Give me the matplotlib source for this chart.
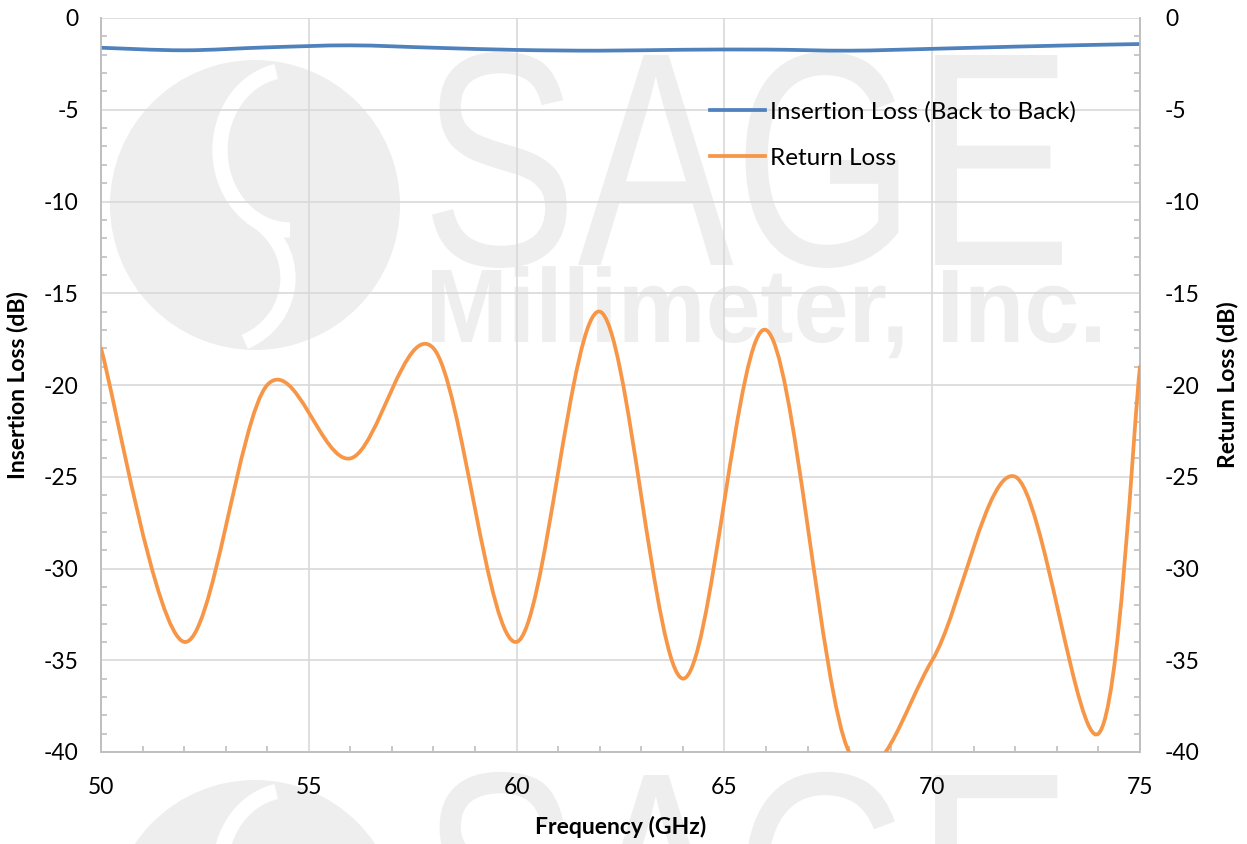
import numpy as np
import matplotlib
matplotlib.use('Agg')
import matplotlib.pyplot as plt
from matplotlib.path import Path
from matplotlib.patches import PathPatch, Circle, Arc
from matplotlib.lines import Line2D
from matplotlib.textpath import TextPath
from matplotlib.font_manager import FontProperties
from matplotlib.ticker import MultipleLocator
import matplotlib.transforms as mtransforms

plt.rcParams['font.family'] = ['Lato', 'DejaVu Sans']

# data
freq_il = [50, 52, 54, 56, 58, 60, 62, 64, 66, 68, 70, 72, 74, 75]
insertion_loss = [-1.62, -1.76, -1.6, -1.49, -1.62, -1.74, -1.78, -1.73, -1.72,
                  -1.78, -1.68, -1.56, -1.46, -1.42]

freq_rl = [50, 52, 54, 56, 58, 60, 62, 64, 66, 68, 70, 72, 74, 75]
return_loss = [-18, -34, -20, -24, -18, -34, -16, -36, -17, -40, -35, -25, -39, -19]

x_ticks = [50, 55, 60, 65, 70, 75]
y_ticks = [0, -5, -10, -15, -20, -25, -30, -35, -40]

blue = '#4F81BD'
orange = '#F79646'
wm_gray = '#EEEEEE'
W, H = 1247, 844


def smooth_path(x, y):
    # Excel style smoothed line: Catmull-Rom as cubic Bezier segments
    p = np.column_stack([x, y]).astype(float)
    n = len(p)
    verts = [p[0]]
    codes = [Path.MOVETO]
    for i in range(n - 1):
        p0 = p[i - 1] if i > 0 else p[i]
        p3 = p[i + 2] if i + 2 < n else p[i + 1]
        c1 = p[i] + (p[i + 1] - p0) / 6.0
        c2 = p[i + 1] - (p3 - p[i]) / 6.0
        verts += [c1, c2, p[i + 1]]
        codes += [Path.CURVE4] * 3
    return Path(verts, codes)


def text_in_box(fig, s, box, weight='normal'):
    # box in image pixels (left, top, right, baseline)
    fp = FontProperties(family='Liberation Sans', weight=weight)
    tp = TextPath((0, 0), s, size=100, prop=fp)
    ext = tp.get_extents()
    cap = TextPath((0, 0), 'M', size=100, prop=fp).get_extents()
    x0, top, x1, base = box
    sx = (x1 - x0) / ext.width
    sy = (base - top) / cap.y1
    tr = (mtransforms.Affine2D().translate(-ext.x0, 0).scale(sx, sy)
          .translate(x0, H - base))
    fig.add_artist(PathPatch(tr.transform_path(tp), facecolor=wm_gray,
                             edgecolor='none', transform=mtransforms.IdentityTransform(),
                             zorder=-2))


def watermark(fig, dy):
    idt = mtransforms.IdentityTransform()
    fig.add_artist(Circle((255, H - (205 + dy)), 145, facecolor=wm_gray,
                          edgecolor='none', transform=idt, zorder=-2))
    fig.add_artist(Arc((290, H - (150 + dy)), 140, 160, theta1=100, theta2=270,
                       color='white', lw=11, transform=idt, zorder=-1.5))
    fig.add_artist(Arc((215, H - (278 + dy)), 146, 140, theta1=-65, theta2=60,
                       color='white', lw=11, transform=idt, zorder=-1.5))
    text_in_box(fig, 'SAGE', (432, 55 + dy, 1062, 265 + dy))
    text_in_box(fig, 'Millimeter, Inc.', (432, 270 + dy, 1100, 342 + dy), weight='bold')


fig = plt.figure(figsize=(W / 100, H / 100), dpi=100)
watermark(fig, 0)
watermark(fig, 720)

ax = fig.add_axes([101 / W, 1 - 752 / H, 1039 / W, 734 / H])
ax.set_facecolor('none')
ax2 = ax.twinx()

ax.add_patch(PathPatch(smooth_path(freq_il, insertion_loss), fill=False,
                       edgecolor=blue, lw=2.7, capstyle='round', zorder=3))
ax2.add_patch(PathPatch(smooth_path(freq_rl, return_loss), fill=False,
                        edgecolor=orange, lw=2.7, capstyle='round', zorder=3))

for a in (ax, ax2):
    a.set_xlim(50, 75)
    a.set_ylim(-40, 0)
    a.set_yticks(y_ticks)
    a.yaxis.set_minor_locator(MultipleLocator(1))
    for sp in a.spines.values():
        sp.set_color('#BFBFBF')
        sp.set_linewidth(1.2)
    a.spines['top'].set_visible(False)

ax.set_xticks(x_ticks)
ax.xaxis.set_minor_locator(MultipleLocator(1))
ax.grid(True, which='major', color='#D9D9D9', lw=1.2)
ax.set_axisbelow(True)

ax.tick_params(axis='both', which='major', length=0, labelsize=16.5, colors='black')
ax.tick_params(axis='y', which='major', pad=16)
ax.tick_params(axis='x', which='major', pad=18)
ax.tick_params(which='minor', direction='in', length=4.5, width=1.2, color='#BFBFBF')
ax2.tick_params(axis='y', which='major', length=0, labelsize=16.5, pad=18)
ax2.tick_params(axis='y', which='minor', direction='in', length=4.5, width=1.2,
                color='#BFBFBF')
ax.set_yticklabels([str(v) for v in y_ticks])
ax2.set_yticklabels([str(v) for v in y_ticks])

ax.set_xlabel('Frequency (GHz)', fontsize=16.5, fontweight='bold')
ax.xaxis.set_label_coords(0.5, (752 - 827) / 734)
ax.xaxis.label.set_va('center')
ax.set_ylabel('Insertion Loss (dB)', fontsize=16.5, fontweight='bold')
ax.yaxis.set_label_coords((18 - 101) / 1039, 0.5)
ax.yaxis.label.set_va('center')
ax2.set_ylabel('Return Loss (dB)', fontsize=16.5, fontweight='bold')
ax2.yaxis.set_label_coords((1228 - 101) / 1039, 0.5)
ax2.yaxis.label.set_va('center')

handles = [Line2D([], [], color=blue, lw=2.7),
           Line2D([], [], color=orange, lw=2.7)]
ax2.legend(handles, ['Insertion Loss (Back to Back)', 'Return Loss'],
           loc='upper left', bbox_to_anchor=((710 - 101) / 1039, (752 - 101) / 734),
           frameon=False, fontsize=17.5, handlelength=2.25, handletextpad=0.22,
           labelspacing=1.03, borderaxespad=0, borderpad=0)

fig.savefig('out.png', dpi=100, facecolor='white')
